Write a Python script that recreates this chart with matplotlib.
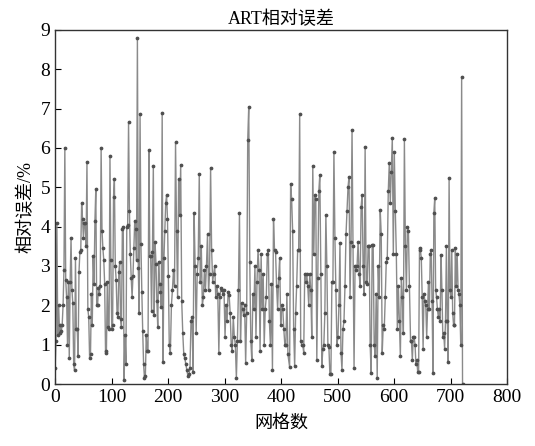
import numpy as np
import matplotlib
matplotlib.use("Agg")
import matplotlib.pyplot as plt

plt.rcParams['font.family'] = ['Liberation Serif', 'Noto Sans CJK SC']

# relative error values, in four stretches of grid numbers
seg1 = [0.4, 1.1, 4.1, 1.25, 2.0, 1.3, 1.5, 1.35, 1.5, 2.0, 2.9, 6.0, 2.65, 2.2, 1.0, 2.6,
        0.65, 2.6, 3.7, 2.4, 2.05, 0.5, 0.35, 3.2, 1.4, 1.4, 0.7, 2.85, 3.35, 3.4, 4.6, 4.2,
        3.7, 4.1, 4.1, 3.5, 5.65, 1.9, 1.7, 0.65, 0.75, 2.3, 1.5, 3.25, 2.55, 4.15, 4.95, 2.0,
        2.0, 2.45, 2.3, 2.5, 6.0, 3.9, 3.45, 3.15, 2.55, 0.8, 0.85, 2.6, 1.45, 1.4, 5.8, 3.15,
        1.4, 1.5, 4.75, 5.2, 3.0, 2.65, 1.8, 1.7, 2.85, 3.1, 1.65, 1.45, 3.95, 4.0, 0.1, 1.25,
        0.5, 4.0, 4.05, 6.65, 4.4, 3.3, 2.7, 2.2, 2.75, 3.45, 4.15, 3.95, 3.15, 8.8, 2.95, 1.8,
        6.85, 3.55, 2.35, 1.35, 0.5, 0.15, 0.2, 1.25, 0.85, 0.85, 5.95, 3.25, 3.25, 1.85, 3.35,
        5.55, 1.75, 3.6, 3.05, 2.1, 1.45, 3.1, 2.55, 2.35, 1.95, 6.9, 0.55, 3.2, 3.9, 4.6, 4.8,
        4.2, 2.75, 1.0]
seg2 = [0.8, 2.0, 2.4, 2.9, 2.5, 6.14, 3.9, 2.2, 5.2, 4.3, 5.57, 2.1, 1.3, 0.75, 0.65, 0.5,
        0.35, 0.2, 0.25, 0.4, 1.6, 1.7, 0.3, 4.35, 3.0, 1.3, 2.8, 3.2, 5.34, 2.6, 3.5, 2.0,
        2.2, 2.9, 2.4, 3.0, 3.8, 2.4, 2.8, 5.5, 3.4, 2.6, 2.8, 3.0, 2.2, 2.5, 2.3, 0.8, 2.2,
        2.45, 2.4, 2.3, 2.4, 1.2, 2.0, 1.6, 2.35, 2.25, 1.8, 1.0, 0.85, 1.7, 1.2, 1.0, 0.15,
        1.1, 2.4, 4.35, 1.1, 2.05, 1.9, 1.75, 2.0, 0.53, 1.8, 6.2, 7.05, 3.1, 1.1, 0.6, 2.3,
        1.9, 3.0, 1.2, 2.6, 3.4, 2.9, 0.85, 3.3, 1.9, 2.8, 1.0, 1.9, 2.2, 3.3, 3.4, 1.6, 1.0,
        2.55, 0.35, 4.2, 3.4, 3.35, 2.5, 1.9, 2.7, 3.2, 1.5, 2.0, 1.9, 1.4, 1.0, 1.0, 2.3, 0.75]
seg3 = [0.43, 5.09, 4.7, 3.9, 1.4, 0.45, 1.8, 2.5, 3.4, 3.4, 6.87, 1.1, 1.0, 1.0, 0.8, 2.8,
        2.6, 2.8, 2.5, 2.0, 2.8, 2.4, 1.2, 5.55, 3.3, 4.8, 4.7, 0.6, 2.7, 4.9, 5.32, 2.8, 0.45,
        0.9, 1.0, 1.8, 4.3, 3.0, 1.0, 0.95, 0.25, 0.25, 2.6, 2.6, 5.9, 3.7, 2.4, 1.0, 1.2, 2.0,
        3.59, 0.8, 0.36, 1.4, 1.6, 2.5, 3.8, 4.4, 5.0, 5.27, 2.2, 3.6, 6.46, 3.5, 0.4, 3.0,
        2.9, 3.0, 3.6, 2.8, 2.5, 4.5, 4.8, 3.0, 2.3, 6.03, 2.6, 2.55, 3.5, 3.5, 1.0, 0.27,
        3.54, 3.54, 1.0, 0.7, 2.3, 0.15, 3.0, 2.2, 4.42, 3.8, 0.8, 1.5, 1.4, 2.2, 3.1, 3.2,
        4.9, 5.62, 4.6, 5.4, 6.25, 3.3, 5.9, 4.4, 3.3, 1.4, 2.5, 1.6, 0.7, 2.7, 2.2, 1.3,
        6.23, 3.5, 2.4, 4.0, 3.9, 2.5]
seg4 = [1.1, 1.1, 0.6, 1.2, 1.2, 1.0, 0.5, 0.6, 0.3, 0.3, 3.46, 3.4, 3.2, 2.2, 0.9, 2.3,
        2.1, 2.0, 1.2, 1.9, 2.6, 1.9, 3.3, 3.4, 2.1, 0.27, 4.35, 4.73, 2.4, 2.2, 1.9, 1.7,
        1.9, 1.6, 3.28, 2.4, 1.2, 1.3, 0.9, 1.6, 3.5, 1.6, 0.55, 5.24, 2.4, 2.2, 3.4, 1.8,
        1.5, 1.5, 3.45, 2.5, 3.3, 2.4, 2.3, 2.0, 1.0, 7.81, 0.0]

# grid-number range covered by each stretch
seg_ranges = [(0, 202), (204, 412), (415, 627), (629, 721)]

x = np.concatenate([np.linspace(a, b, len(s)) for (a, b), s in zip(seg_ranges, [seg1, seg2, seg3, seg4])])
y = np.concatenate([seg1, seg2, seg3, seg4])

fig = plt.figure(figsize=(5.35, 4.46), dpi=100)
ax = fig.add_axes([0.103, 0.139, 0.845, 0.794])

ax.plot(x, y, color='#8a8a8a', lw=1.0, marker='o', ms=1.7,
        markerfacecolor='#505050', markeredgecolor='#505050')

ax.set_xlim(0, 800)
ax.set_ylim(0, 9)
ax.set_xticks(range(0, 801, 100))
ax.set_yticks(range(0, 10))
ax.tick_params(direction='in', labelsize=14, length=4, width=0.8, colors='black')
for s in ax.spines.values():
    s.set_linewidth(1.0)
    s.set_color('#333333')

ax.set_title('ART相对误差', fontsize=13, pad=4)
ax.set_xlabel('网格数', fontsize=13, labelpad=6)
ax.set_ylabel('相对误差/%', fontsize=13, labelpad=4)

fig.savefig('out.png', dpi=100)
